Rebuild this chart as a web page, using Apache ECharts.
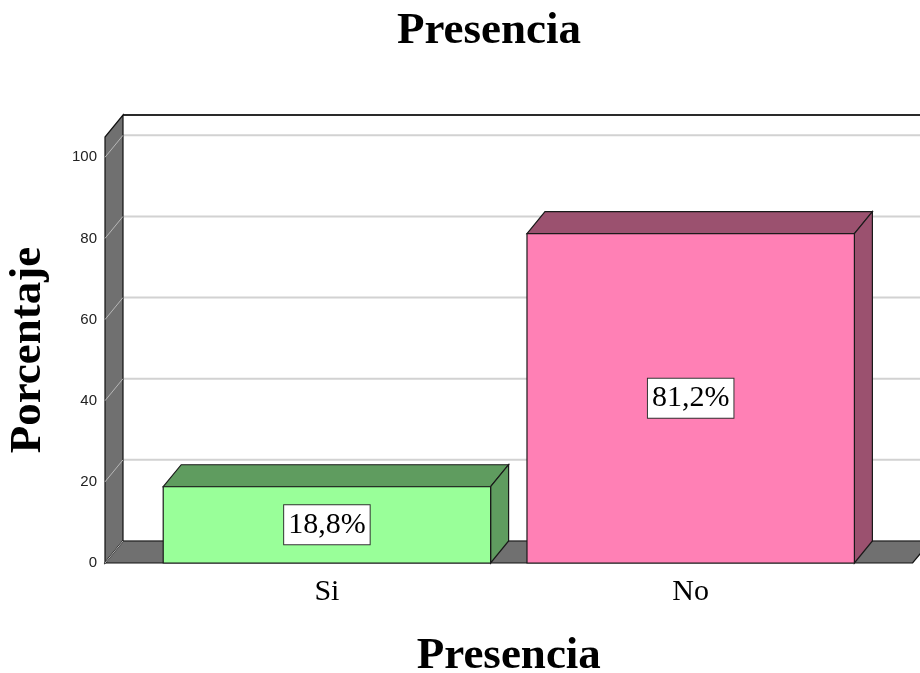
<!DOCTYPE html>
<html>
<head>
<meta charset="utf-8">
<title>Presencia</title>
<script src="https://cdn.jsdelivr.net/npm/echarts@6/dist/echarts.min.js"></script>
<style>
  html, body { margin: 0; padding: 0; background: #fff; }
  #chart { width: 920px; height: 673px; }
</style>
</head>
<body>
<div id="chart"></div>
<script>
// Category names, percentage values and the value-axis tick labels
const categories = ['Si', 'No'];
const percentages = [18.8, 81.2];
const yTicks = [0, 20, 40, 60, 80, 100];

// Bar face colours (front, shaded top/side)
const frontColors = ['#99ff99', '#ff80b5'];
const shadeColors = ['#5f9c5f', '#9b516f'];

// 3D depth offset of the box in pixels
const DX = 18;
const DY = -22;
const BAR_HALF = 0.45;
const SERIF = '"Liberation Serif", "Times New Roman", serif';
const SANS = '"Liberation Sans", Arial, sans-serif';

function fmtPct(v) {
  return v.toFixed(1).replace('.', ',') + '%';
}

// Walls, floor and back-wall gridlines of the 3D frame
function renderFrame(params, api) {
  const cs = params.coordSys;
  const x0 = cs.x, x1 = cs.x + cs.width;
  const yt = cs.y, yb = cs.y + cs.height;
  const children = [];
  children.push({
    type: 'rect',
    shape: { x: x0 + DX, y: yt + DY, width: cs.width, height: cs.height },
    style: { fill: '#ffffff' }
  });
  yTicks.forEach(function (t) {
    const y = api.coord([0, t])[1];
    children.push({
      type: 'line',
      shape: { x1: x0 + DX, y1: y + DY, x2: x1 + DX, y2: y + DY },
      style: { stroke: '#d2d2d2', lineWidth: 2 }
    });
  });
  children.push({
    type: 'line',
    shape: { x1: x0 + DX, y1: yt + DY, x2: x1 + DX, y2: yt + DY },
    style: { stroke: '#2a2a2a', lineWidth: 2 }
  });
  // left wall
  children.push({
    type: 'polygon',
    shape: { points: [[x0, yb], [x0, yt], [x0 + DX, yt + DY], [x0 + DX, yb + DY]] },
    style: { fill: '#707070', stroke: '#111', lineWidth: 1.2 }
  });
  yTicks.forEach(function (t) {
    if (t === 0) return;
    const y = api.coord([0, t])[1];
    children.push({
      type: 'line',
      shape: { x1: x0, y1: y, x2: x0 + DX, y2: y + DY },
      style: { stroke: '#b8b8b8', lineWidth: 1 }
    });
  });
  // floor
  children.push({
    type: 'polygon',
    shape: { points: [[x0, yb], [x1, yb], [x1 + DX, yb + DY], [x0 + DX, yb + DY]] },
    style: { fill: '#707070', stroke: '#111', lineWidth: 1.2 }
  });
  children.push({
    type: 'line',
    shape: { x1: x0, y1: yb, x2: x0 + DX, y2: yb + DY },
    style: { stroke: '#b8b8b8', lineWidth: 1 }
  });
  return { type: 'group', children: children };
}

// One 3D box per category, with its value label on the front face
function renderBar(params, api) {
  const idx = params.dataIndex;
  const xi = api.value(0);
  const v = api.value(1);
  const tl = api.coord([xi - BAR_HALF, v]);
  const br = api.coord([xi + BAR_HALF, 0]);
  const l = tl[0], t = tl[1], r = br[0], b = br[1];
  const edge = { stroke: '#1a1a1a', lineWidth: 1.2 };
  return {
    type: 'group',
    children: [
      {
        type: 'polygon',
        shape: { points: [[l, t], [r, t], [r + DX, t + DY], [l + DX, t + DY]] },
        style: Object.assign({ fill: shadeColors[idx] }, edge)
      },
      {
        type: 'polygon',
        shape: { points: [[r, t], [r + DX, t + DY], [r + DX, b + DY], [r, b]] },
        style: Object.assign({ fill: shadeColors[idx] }, edge)
      },
      {
        type: 'rect',
        shape: { x: l, y: t, width: r - l, height: b - t },
        style: Object.assign({ fill: frontColors[idx] }, edge)
      },
      {
        type: 'text',
        x: (l + r) / 2,
        y: (t + b) / 2,
        style: {
          text: fmtPct(v),
          fill: '#000',
          font: '30px ' + SERIF,
          align: 'center',
          verticalAlign: 'middle',
          backgroundColor: '#ffffff',
          borderColor: '#333',
          borderWidth: 1,
          padding: [5, 4, 4, 4]
        }
      }
    ]
  };
}

const chart = echarts.init(document.getElementById('chart'), null, { renderer: 'canvas' });

chart.setOption({
  animation: false,
  backgroundColor: '#ffffff',
  title: {
    text: 'Presencia',
    left: 484,
    top: 4,
    textAlign: 'center',
    textStyle: { fontFamily: SERIF, fontWeight: 'bold', fontSize: 45, color: '#000' }
  },
  grid: { left: 105, right: 7.4, top: 137, bottom: 110, containLabel: false, outerBoundsMode: 'none' },
  xAxis: {
    type: 'value',
    min: -0.61,
    max: 1.61,
    name: 'Presencia',
    nameLocation: 'middle',
    nameGap: 71,
    nameTextStyle: { fontFamily: SERIF, fontWeight: 'bold', fontSize: 45, color: '#000' },
    axisLine: { show: false },
    axisTick: { show: false },
    splitLine: { show: false },
    axisLabel: {
      customValues: categories.map(function (c, i) { return i; }),
      formatter: function (v) { return categories[Math.round(v)]; },
      fontFamily: SERIF,
      fontSize: 30,
      color: '#000',
      margin: 14
    }
  },
  yAxis: {
    type: 'value',
    min: 0,
    max: 105,
    name: 'Porcentaje',
    nameLocation: 'middle',
    nameRotate: 90,
    nameGap: 54,
    nameTextStyle: { fontFamily: SERIF, fontWeight: 'bold', fontSize: 45, color: '#000' },
    axisLine: { show: false },
    axisTick: { show: false },
    splitLine: { show: false },
    axisLabel: {
      customValues: yTicks,
      fontFamily: SANS,
      fontSize: 15,
      color: '#222',
      margin: 8,
      padding: [4, 0, 0, 0]
    }
  },
  series: [
    {
      type: 'custom',
      name: 'frame',
      z: 1,
      silent: true,
      renderItem: renderFrame,
      data: [[0, 0]]
    },
    {
      type: 'custom',
      name: 'Presencia',
      z: 2,
      renderItem: renderBar,
      data: percentages.map(function (p, i) { return [i, p]; })
    }
  ]
});
</script>
</body>
</html>
